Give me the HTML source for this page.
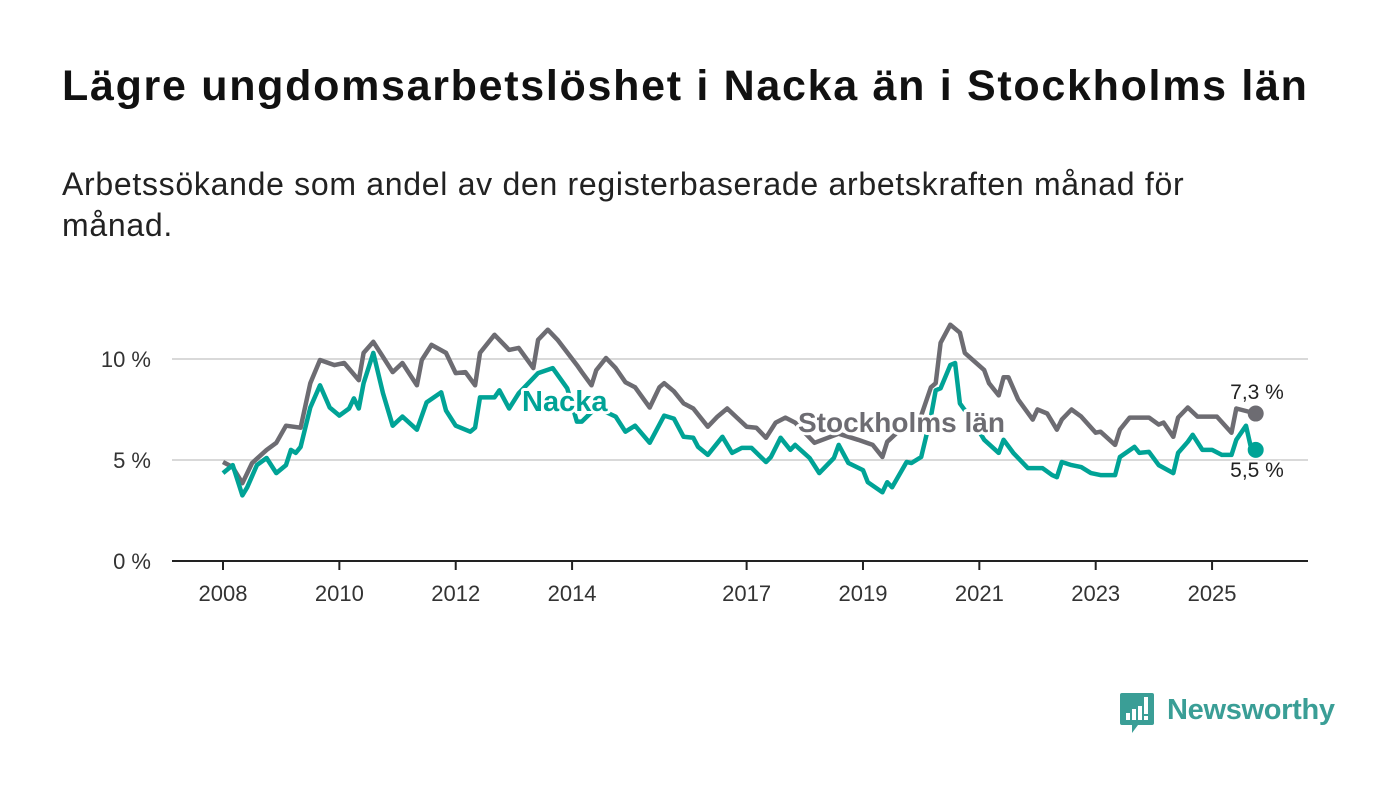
<!DOCTYPE html>
<html><head><meta charset="utf-8">
<style>
body{margin:0;background:#fff;width:1400px;height:794px;overflow:hidden;font-family:"Liberation Sans",sans-serif;}
#title{position:absolute;left:62px;top:62px;font-size:43px;font-weight:bold;color:#111;margin:0;letter-spacing:1.7px;white-space:nowrap}
#sub{position:absolute;left:62px;top:164px;font-size:32px;color:#222;line-height:41px;width:1200px;letter-spacing:0.7px}
svg{position:absolute;left:0;top:0}
</style></head><body>
<h1 id="title">Lägre ungdomsarbetslöshet i Nacka än i Stockholms län</h1>
<div id="sub">Arbetssökande som andel av den registerbaserade arbetskraften månad för månad.</div>
<svg id="chart" width="1400" height="794"></svg>
<script>
const stockMonths=[0,2,4,6,9,11,13,16,18,20,23,25,28,29,31,35,37,40,41,43,46,48,50,52,53,56,59,61,64,65,67,69,73,74,76,77,79,81,83,85,88,90,91,93,95,97,100,102,104,106,108,110,112,114,116,118,122,127,131,134,136,137,141,144,146,147,148,150,152,153,157,158,160,161,162,164,167,168,170,172,173,175,177,180,181,184,185,187,191,193,194,196,197,199,201,205,208,209,213];
const stockValues=[4.9,4.65,3.85,4.85,5.5,5.85,6.7,6.6,8.8,9.95,9.7,9.8,8.95,10.3,10.85,9.35,9.8,8.7,9.95,10.7,10.3,9.3,9.35,8.7,10.3,11.2,10.45,10.55,9.55,10.95,11.45,10.95,9.7,9.35,8.7,9.45,10.05,9.55,8.85,8.6,7.6,8.6,8.8,8.4,7.8,7.55,6.65,7.15,7.55,7.1,6.65,6.6,6.1,6.85,7.1,6.85,5.85,6.3,6.0,5.75,5.15,5.9,6.8,7.2,8.6,8.8,10.8,11.7,11.3,10.3,9.45,8.8,8.2,9.1,9.1,8.0,7.0,7.5,7.3,6.5,7.0,7.5,7.15,6.35,6.4,5.75,6.5,7.1,7.1,6.75,6.85,6.15,7.1,7.6,7.15,7.15,6.35,7.55,7.3];
const nackaMonths=[0,2,4,5,7,9,11,13,14,15,16,18,20,22,24,26,27,28,29,31,33,35,37,40,42,45,46,48,51,52,53,56,57,59,61,65,68,71,73,74,77,81,83,85,88,91,93,95,97,98,100,103,105,107,109,112,113,115,117,118,121,123,126,127,129,132,133,136,137,138,141,142,144,146,147,148,150,151,152,155,157,160,161,163,166,169,171,172,173,175,177,179,181,184,185,188,189,191,193,196,197,199,200,202,204,206,208,209,211,212,213];
const nackaValues=[4.35,4.75,3.25,3.65,4.75,5.1,4.35,4.75,5.5,5.35,5.65,7.6,8.7,7.6,7.2,7.55,8.05,7.55,8.8,10.3,8.3,6.7,7.15,6.5,7.85,8.35,7.45,6.7,6.4,6.6,8.1,8.1,8.45,7.55,8.3,9.3,9.55,8.55,6.9,6.9,7.6,7.15,6.4,6.7,5.85,7.2,7.05,6.15,6.1,5.65,5.25,6.15,5.35,5.6,5.6,4.9,5.15,6.1,5.5,5.75,5.1,4.35,5.1,5.75,4.85,4.5,3.9,3.4,3.9,3.65,4.9,4.85,5.15,7.15,8.45,8.55,9.7,9.8,7.8,6.8,6.0,5.35,6.0,5.35,4.6,4.6,4.25,4.15,4.9,4.75,4.65,4.35,4.25,4.25,5.15,5.65,5.35,5.4,4.75,4.35,5.35,5.9,6.25,5.5,5.5,5.25,5.25,6.0,6.7,5.65,5.5];
const yTicks=[0,5,10];
const yTickLabels=["0 %","5 %","10 %"];
const xTicks=[2008,2010,2012,2014,2017,2019,2021,2023,2025];

const NS="http://www.w3.org/2000/svg";
const svg=document.getElementById('chart');
const X=m=>223+m*(58.18/12);
const XY=yr=>223+(yr-2008)*58.18;
const Y=v=>561-v*20.2;
function mk(t,a,p){const e=document.createElementNS(NS,t);for(const k in a)e.setAttribute(k,a[k]);(p||svg).appendChild(e);return e;}

yTicks.forEach((v,i)=>{
  if(v>0){const g=mk('line',{x1:172,x2:1308,y1:Y(v),y2:Y(v),stroke:'#d9d9d9','stroke-width':2});
  
  }
  const t=mk('text',{x:151,y:Y(v)+8,'text-anchor':'end','font-size':22,fill:'#333','font-family':'Liberation Sans, sans-serif'});
  t.textContent=yTickLabels[i];
  
  
});
const ax=mk('line',{x1:172,x2:1308,y1:561,y2:561,stroke:'#222','stroke-width':2});


xTicks.forEach(yr=>{
  const tk=mk('line',{x1:XY(yr),x2:XY(yr),y1:561,y2:570,stroke:'#222','stroke-width':2});
  
  
  const t=mk('text',{x:XY(yr),y:601,'text-anchor':'middle','font-size':22,fill:'#333','font-family':'Liberation Sans, sans-serif'});
  t.textContent=String(yr);
  
  
});
function line(ms,vs,c,name){
  const d=ms.map((m,i)=>(i?'L':'M')+X(m).toFixed(1)+','+Y(vs[i]).toFixed(1)).join('');
  const p=mk('path',{d:d,fill:'none',stroke:c,'stroke-width':4.5,'stroke-linejoin':'round'});
  
  
  const n=ms.length-1;
  const dot=mk('circle',{cx:X(ms[n]),cy:Y(vs[n]),r:8,fill:c});
  
  
  return dot;
}
line(stockMonths,stockValues,'#6d6c72','stockholm-line');
line(nackaMonths,nackaValues,'#00a396','nacka-line');
function label(txt,x,y,c,name,size,bold,anchor){
  const t=mk('text',{x:x,y:y,'font-size':size,'font-weight':bold?'bold':'normal',fill:c,'text-anchor':anchor||'start',stroke:'#fff','stroke-width':bold?6:4,'paint-order':'stroke','stroke-linejoin':'round','font-family':'Liberation Sans, sans-serif'});
  t.textContent=txt;
  
  
}
label('Nacka',522,411,'#00a396','nacka-label',29,true);
label('Stockholms län',798,432,'#6d6c72','stockholm-label',28,true);
const sn=stockValues.length-1, nn=nackaValues.length-1;
label(stockValues[sn].toFixed(1).replace('.',',')+' %',1257,399,'#222','stockholm-end-value',21,false,'middle');
label(nackaValues[nn].toFixed(1).replace('.',',')+' %',1257,477,'#222','nacka-end-value',21,false,'middle');

// logo
const lg=mk('g',{});


mk('path',{d:'M1122,693 h30 a2,2 0 0 1 2,2 v28 a2,2 0 0 1 -2,2 h-14 l-6,8 v-8 h-10 a2,2 0 0 1 -2,-2 v-28 a2,2 0 0 1 2,-2z',fill:'#3a9e96'},lg);
mk('rect',{x:1126,y:713,width:4,height:7,fill:'#fff'},lg);
mk('rect',{x:1132,y:709,width:4,height:11,fill:'#fff'},lg);
mk('rect',{x:1138,y:706,width:4,height:14,fill:'#fff'},lg);
mk('rect',{x:1144,y:697,width:4,height:17,fill:'#fff'},lg);
mk('rect',{x:1144,y:716,width:4,height:4,fill:'#fff'},lg);
const lt=mk('text',{x:1167,y:719,'font-size':29,'font-weight':'bold',fill:'#3a9e96',textLength:168,'font-family':'Liberation Sans, sans-serif'},lg);
lt.textContent='Newsworthy';
</script>
</body></html>
